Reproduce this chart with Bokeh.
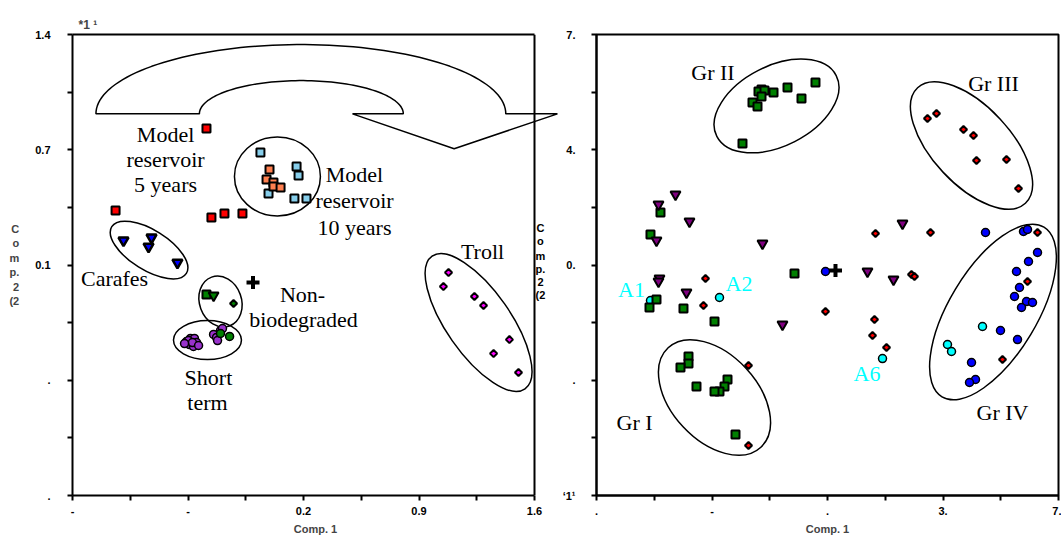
import numpy as np
from bokeh.plotting import figure
from bokeh.models import Range1d, FixedTicker, PolyAnnotation, Span, LinearAxis, Title
from bokeh.layouts import row
from bokeh.embed import file_html
from bokeh.resources import INLINE
from bokeh.core.properties import value

# ---------------- axes / ticks ----------------
L_XR = (-1.2, 1.6)
L_YR = (-1.4, 1.4)
L_XTICKS = [-1.2, -0.5, 0.2, 0.9, 1.6]
L_XMINOR = [-0.85, -0.15, 0.55, 1.25]
L_XLABELS = ["-", "-", "0.2", "0.9", "1.6"]
L_YTICKS = [-1.4, -0.7, 0.0, 0.7, 1.4]
L_YMINOR = [-1.05, -0.35, 0.35, 1.05]
L_YLABELS = [".", ".", "0.1", "0.7", "1.4"]

R_XR = (-7.0, 7.0)
R_YR = (-7.0, 7.0)
R_XTICKS = [-7.0, -3.5, 0.0, 3.5, 7.0]
R_XMINOR = [-5.25, -1.75, 1.75, 5.25]
R_XLABELS = [".", "-", ".", "3.", "7."]
R_YTICKS = [-7.0, -3.5, 0.0, 3.5, 7.0]
R_YMINOR = [-5.25, -1.75, 1.75, 5.25]
R_YLABELS = ["\u20181\u00b9", ".", "0.", "4.", "7."]

# ---------------- left panel data ----------------
res5_x = [-0.388, -0.939, -0.358, -0.279, -0.170]
res5_y = [0.829, 0.331, 0.289, 0.313, 0.313]
res10_blue_x = [-0.061, 0.158, 0.170, -0.012, 0.145, 0.218]
res10_blue_y = [0.683, 0.598, 0.544, 0.434, 0.404, 0.404]
res10_orange_x = [-0.006, -0.024, 0.018, 0.018, 0.061]
res10_orange_y = [0.580, 0.519, 0.501, 0.477, 0.471]
carafe_x = [-0.891, -0.721, -0.739, -0.564]
carafe_y = [0.149, 0.167, 0.112, 0.015]
nonbio_sq_x, nonbio_sq_y = [-0.388], [-0.179]
nonbio_tri_x, nonbio_tri_y = [-0.345], [-0.185]
nonbio_dia_x, nonbio_dia_y = [-0.224], [-0.234]
short_purple_x = [-0.509, -0.485, -0.461, -0.491, -0.467, -0.448, -0.497, -0.473, -0.521, -0.436,
                  -0.345, -0.327, -0.321, -0.303, -0.291]
short_purple_y = [-0.465, -0.446, -0.446, -0.483, -0.495, -0.471, -0.459, -0.471, -0.477, -0.489,
                  -0.422, -0.440, -0.459, -0.398, -0.386]
short_green_x = [-0.303, -0.248]
short_green_y = [-0.416, -0.434]
troll_x = [1.079, 1.048, 1.236, 1.291, 1.448, 1.352, 1.503]
troll_y = [-0.046, -0.131, -0.191, -0.246, -0.453, -0.538, -0.653]
l_ref_x, l_ref_y = [-0.106], [-0.106]

# group ellipses: centre x, centre y, width, height, angle (deg)
l_ell_x = [-0.736, 0.042, -0.303, -0.382, 1.261]
l_ell_y = [0.091, 0.538, -0.222, -0.456, -0.349]
l_ell_w = [0.533, 0.521, 0.315, 0.412, 0.982]
l_ell_h = [0.243, 0.480, 0.255, 0.237, 0.389]
l_ell_a = [-32, 0, -70, 0, -55]

l_txt = ["Model", "reservoir", "5 years", "Model", "reservoir", "10 years",
         "Carafes", "Non-", "biodegraded", "Short", "term", "Troll"]
l_txt_x = [-0.636, -0.636, -0.636, 0.509, 0.509, 0.509, -0.945, 0.194, 0.200, -0.376, -0.382, 1.285]
l_txt_y = [0.793, 0.641, 0.489, 0.550, 0.389, 0.228, -0.079, -0.180, -0.334, -0.682, -0.838, 0.079]

# curved arrow (outer / inner half ellipse + head), data units of left panel
ARR_CY = 0.918
ARR_OUT = (0.184, 1.242, 0.421)
ARR_IN = (0.187, 0.618, 0.202)
ARR_HEAD_L, ARR_HEAD_R = 0.497, 1.739
ARR_TIP = (1.113, 0.706)

# ---------------- right panel data ----------------
grn_x = [-2.0, -2.091, -1.909, -1.636, -1.212, -0.364, -2.0, -2.273, -2.121, -0.788, -2.576,
         -5.061, -5.364, -1.0, -5.182, -5.394, -4.364, -3.424,
         -4.212, -4.212, -4.455, -3.970, -3.030, -3.121, -3.273, -3.424, -2.788]
grn_y = [5.330, 5.269, 5.299, 5.239, 5.390, 5.542, 5.117, 4.935, 4.813, 5.056, 3.690,
         1.594, 0.926, -0.258, -1.048, -1.291, -1.321, -1.716,
         -2.779, -2.991, -3.113, -3.690, -3.477, -3.690, -3.842, -3.842, -5.148]
pur_x = [-4.606, -5.121, -4.182, -5.182, -1.970, -5.091, -5.121, -4.273, -1.364, 2.273, 1.212, 2.0]
pur_y = [2.141, 1.837, 1.321, 0.744, 0.653, -0.410, -0.501, -0.835, -1.807, 1.260, -0.197, -0.440]
red_x = [3.030, 3.303, 4.121, 4.424, 4.515, 5.424, 5.788,
         -3.697, -3.758, -0.061, -2.394, -2.394, 1.455, 3.121, 2.545, 2.636,
         1.424, 1.364, 1.788, 6.061, 5.303, 6.364]
red_y = [4.449, 4.601, 4.115, 3.933, 3.174, 3.204, 2.323,
         -0.410, -1.230, -1.412, -3.052, -5.482, 0.957, 0.987, -0.289, -0.349,
         -1.655, -2.141, -2.506, -0.501, -2.870, 0.987]
blu_x = [-0.061, 4.788, 5.939, 6.061, 6.364, 6.091, 5.727, 5.818, 5.667, 6.030, 6.212, 5.879,
         5.242, 5.758, 4.364, 4.485, 4.303]
blu_y = [-0.197, 0.987, 1.017, 1.078, 0.380, 0.106, -0.197, -0.683, -0.957, -1.109, -1.139, -1.291,
         -1.989, -2.263, -2.961, -3.477, -3.568]
cya_x = [-5.364, -3.273, 4.697, 3.636, 3.758, 1.667]
cya_y = [-1.078, -0.987, -1.868, -2.414, -2.627, -2.840]
r_ref_x, r_ref_y = [0.242], [-0.167]

r_ell_x = [-1.545, 4.364, -3.424, 5.015]
r_ell_y = [4.829, 3.629, -4.024, -1.427]
r_ell_w = [4.06, 4.79, 4.12, 6.0]
r_ell_h = [2.43, 2.37, 2.61, 2.67]
r_ell_a = [27, -47, -47, 59]

r_txt = ["Gr II", "Gr III", "Gr I", "Gr IV"]
r_txt_x = [-3.470, 5.030, -5.848, 5.303]
r_txt_y = [5.831, 5.527, -4.783, -4.473]
r_cyan_txt = ["A1", "A2", "A6"]
r_cyan_txt_x = [-5.939, -2.682, 1.197]
r_cyan_txt_y = [-0.729, -0.577, -3.280]

YLAB_LINES = ["C", "o", "m", "p.", "2", "(2"]
YLAB_TEXT = "\n".join(YLAB_LINES)
# second panel's stacked y title sits in the gap between the panels (left-panel data units)
YLAB2_X = 1.636
YLAB2_Y = [0.222, 0.143, 0.052, -0.027, -0.106, -0.185]

SANS = "Liberation Sans"
SERIF = "Liberation Serif"
FW, FH = 462, 461
GAP_PX = 24  # left panel canvas continues to the right of its box (arrow head / right y title)


def style_axis(ax):
    ax.axis_line_width = 2
    ax.major_tick_line_width = 2
    ax.minor_tick_line_width = 2
    ax.major_tick_in = 0
    ax.major_tick_out = 5
    ax.minor_tick_in = 0
    ax.minor_tick_out = 5
    ax.major_label_text_font = SANS
    ax.major_label_text_font_size = "11px"
    ax.major_label_text_font_style = "bold"
    ax.major_label_text_color = "black"
    ax.axis_label_text_font = SANS
    ax.axis_label_text_font_size = "11px"
    ax.axis_label_text_font_style = "bold"


def make_fig(xr, yr, fw, xt, xm, xl, yt, ym, yl, bl, br, ystand):
    p = figure(x_range=Range1d(*xr), y_range=Range1d(*yr), frame_width=fw, frame_height=FH,
               min_border_left=bl, min_border_right=br, min_border_top=34, min_border_bottom=43,
               output_backend="svg", toolbar_location=None, title=None, tools="")
    p.grid.visible = False
    p.xaxis.ticker = FixedTicker(ticks=xt, minor_ticks=xm)
    p.yaxis.ticker = FixedTicker(ticks=yt, minor_ticks=ym)
    p.xaxis.major_label_overrides = {t: s for t, s in zip(xt, xl)}
    p.yaxis.major_label_overrides = {t: s for t, s in zip(yt, yl)}
    p.xaxis.axis_label = "Comp. 1"
    p.xaxis.axis_label_standoff = 5
    p.xaxis.major_label_standoff = 6
    p.yaxis.major_label_standoff = ystand
    style_axis(p.xaxis[0])
    style_axis(p.yaxis[0])
    return p


# ================= left panel =================
l_x_end = L_XR[1] + GAP_PX * (L_XR[1] - L_XR[0]) / FW
p1 = make_fig((L_XR[0], l_x_end), L_YR, FW + GAP_PX, L_XTICKS, L_XMINOR, L_XLABELS,
              L_YTICKS, L_YMINOR, L_YLABELS, 72, 0, 17)
p1.outline_line_color = None
p1.xaxis.bounds = L_XR
p1.yaxis.axis_label = YLAB_TEXT
p1.yaxis.axis_label_orientation = "horizontal"
p1.yaxis.axis_label_standoff = 13
p1.yaxis.axis_label_text_align = "center"

top_edge = LinearAxis(ticker=FixedTicker(ticks=[]), bounds=L_XR, axis_line_width=2,
                      major_tick_out=0, minor_tick_out=0, major_label_text_font_size="0px")
p1.add_layout(top_edge, "above")
p1.add_layout(Span(location=L_XR[1], dimension="height", line_color="black", line_width=2))
p1.add_layout(Title(text="*1 \u00b9", align="left", offset=6, standoff=5, text_font=SANS,
                    text_font_size="12px", text_font_style="bold"), "above")

p1.ellipse(x=l_ell_x, y=l_ell_y, width=l_ell_w, height=l_ell_h, angle=l_ell_a, angle_units="deg",
           fill_color=None, line_color="black", line_width=1.5)

cx_o, a_o, b_o = ARR_OUT
cx_i, a_i, b_i = ARR_IN
t = np.linspace(np.pi, 0, 80)
ax_pts = list(cx_o + a_o * np.cos(t)) + [ARR_HEAD_R, ARR_TIP[0], ARR_HEAD_L] + list(cx_i + a_i * np.cos(t[::-1]))
ay_pts = list(ARR_CY + b_o * np.sin(t)) + [ARR_CY, ARR_TIP[1], ARR_CY] + list(ARR_CY + b_i * np.sin(t[::-1]))
p1.add_layout(PolyAnnotation(xs=ax_pts, ys=ay_pts, fill_color=None, fill_alpha=0,
                             line_color="black", line_alpha=1.0, line_width=1.5))

sq = dict(marker="square", size=8, line_color="black", line_width=2)
p1.scatter(res5_x, res5_y, fill_color="#FF0000", **sq)
p1.scatter(res10_blue_x, res10_blue_y, fill_color="#87CEEB", **sq)
p1.scatter(res10_orange_x, res10_orange_y, fill_color="#FF8050", **sq)
p1.scatter(carafe_x, carafe_y, marker="inverted_triangle", size=10, fill_color="#0000FF",
           line_color="black", line_width=2.5)
p1.scatter(nonbio_sq_x, nonbio_sq_y, fill_color="#008000", **sq)
p1.scatter(nonbio_tri_x, nonbio_tri_y, marker="inverted_triangle", size=10, fill_color="#008000",
           line_color="black", line_width=2)
p1.scatter(nonbio_dia_x, nonbio_dia_y, marker="square", angle=45, angle_units="deg", size=5,
           fill_color="#008000", line_color="black", line_width=2)
p1.scatter(short_purple_x, short_purple_y, marker="circle", size=8, fill_color="#9932CC",
           line_color="black", line_width=1.5)
p1.scatter(short_green_x, short_green_y, marker="circle", size=8, fill_color="#008000",
           line_color="black", line_width=1.5)
p1.scatter(troll_x, troll_y, marker="square", angle=45, angle_units="deg", size=5,
           fill_color="#FF00FF", line_color="black", line_width=2)
p1.scatter(l_ref_x, l_ref_y, marker="cross", size=13, line_color="black", line_width=4)

p1.text(x=l_txt_x, y=l_txt_y, text=l_txt, text_font=value(SERIF), text_font_size="22px",
        text_align="center", text_baseline="middle", text_color="black")
p1.text(x=[YLAB2_X] * len(YLAB_LINES), y=YLAB2_Y, text=YLAB_LINES, text_font=value(SANS),
        text_font_size="11px", text_font_style="bold", text_align="center",
        text_baseline="middle", text_color="black")

# ================= right panel =================
p2 = make_fig(R_XR, R_YR, FW, R_XTICKS, R_XMINOR, R_XLABELS, R_YTICKS, R_YMINOR, R_YLABELS, 38, 3, 16)
p2.outline_line_color = "black"
p2.outline_line_width = 2

p2.ellipse(x=r_ell_x, y=r_ell_y, width=r_ell_w, height=r_ell_h, angle=r_ell_a, angle_units="deg",
           fill_color=None, line_color="black", line_width=1.5)

p2.scatter(cya_x, cya_y, marker="circle", size=8, fill_color="#00FFFF", line_color="black", line_width=1.5)
p2.scatter(grn_x, grn_y, fill_color="#008000", **sq)
p2.scatter(pur_x, pur_y, marker="inverted_triangle", size=10, fill_color="#800080",
           line_color="black", line_width=2)
p2.scatter(blu_x, blu_y, marker="circle", size=8, fill_color="#0000FF", line_color="black", line_width=1.5)
p2.scatter(red_x, red_y, marker="square", angle=45, angle_units="deg", size=5,
           fill_color="#FF0000", line_color="black", line_width=2)
p2.scatter(r_ref_x, r_ref_y, marker="cross", size=13, line_color="black", line_width=4)

p2.text(x=r_txt_x, y=r_txt_y, text=r_txt, text_font=value(SERIF), text_font_size="22px",
        text_align="center", text_baseline="middle", text_color="black")
p2.text(x=r_cyan_txt_x, y=r_cyan_txt_y, text=r_cyan_txt, text_font=value(SERIF), text_font_size="22px",
        text_align="center", text_baseline="middle", text_color="#00FFFF")

layout = row(p1, p2)
open("out.html", "w").write(file_html(layout, INLINE))
